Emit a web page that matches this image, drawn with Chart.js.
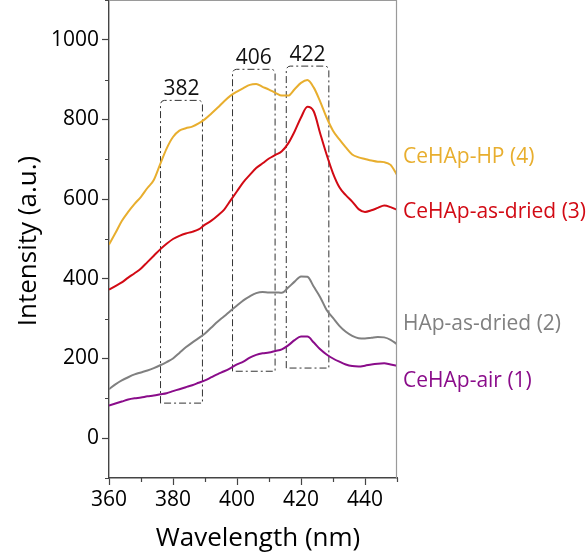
<!DOCTYPE html>
<html>
<head>
<meta charset="utf-8">
<script src="https://cdn.jsdelivr.net/npm/chart.js@4/dist/chart.umd.min.js"></script>
<style>
  html, body { margin: 0; padding: 0; background: #fff; }
  #wrap { width: 586px; height: 559px; }
</style>
</head>
<body>
<div id="wrap"><canvas id="pl"></canvas></div>
<script>
// Photoluminescence spectra, intensity vs wavelength
const wavelengths = [360,362,364,366,368,370,372,374,376,378,380,382,384,386,388,390,392,394,396,398,400,402,404,406,408,410,412,414,416,418,420,422,424,426,428,430,432,434,436,438,440,442,444,446,448,450];

const ceHApHP = [486,515,545,568,588,606,628,648,688,727,756,772,778,782,790,801,815,830,846,860,870,879,887,889,882,875,867,860,860,876,892,899,880,845,805,772,750,730,712,705,701,697,694,693,686,661];
const ceHApAsDried = [373,382,391,403,414,426,442,458,474,488,500,508,514,518,524,536,546,559,574,597,620,643,661,678,690,702,711,720,740,770,805,832,820,765,712,665,630,610,594,575,568,572,578,584,580,573];
const hApAsDried = [123,135,145,153,160,165,170,176,183,191,200,214,228,240,251,263,278,293,306,320,333,346,356,364,367,366,366,365,378,393,406,405,380,354,322,302,282,267,257,251,250,252,254,253,247,236];
const ceHApAir = [82,87,92,97,100,102,105,107,110,113,118,123,128,133,139,145,153,161,168,176,185,192,202,209,213,215,219,223,233,246,255,255,240,223,210,200,192,185,181,180,182,185,187,188,185,182];

const seriesNames = ['CeHAp-HP (4)', 'CeHAp-as-dried (3)', 'HAp-as-dried (2)', 'CeHAp-air (1)'];
const seriesValues = [ceHApHP, ceHApAsDried, hApAsDried, ceHApAir];
const seriesColors = ['#E8AE2E', '#D20A14', '#808080', '#8A0C8A'];
// intensity level at which each series name is written, right of the frame
const seriesNameAt = [706, 568, 286, 143];

// peak windows: wavelength span and intensity span of each dash-dot box
const peakLabels = ['382', '406', '422'];
const peakFrom = [376.1, 398.6, 415.4];
const peakTo = [389.2, 411.9, 428.7];
const peakTop = [848, 926, 934];
const peakBottom = [88, 168, 176];

const yTickLabels = [0, 200, 400, 600, 800, 1000];
const xTickLabels = [360, 380, 400, 420, 440];

const FONT = '"Open Sans", "DejaVu Sans", sans-serif';

const datasets = seriesValues.map((vals, i) => ({
  label: seriesNames[i],
  data: vals.map((v, k) => ({ x: wavelengths[k], y: v })),
  borderColor: seriesColors[i],
  borderWidth: 2,
  pointRadius: 0,
  cubicInterpolationMode: 'monotone',
  fill: false
}));

const peakBoxes = {
  id: 'peakBoxes',
  beforeDatasetsDraw(chart) {
    const { ctx, scales: { x, y } } = chart;
    ctx.save();
    ctx.strokeStyle = '#333';
    ctx.lineWidth = 1;
    ctx.setLineDash([7, 3, 2, 3]);
    const r = 4;
    peakLabels.forEach((lab, i) => {
      const l = x.getPixelForValue(peakFrom[i]);
      const rt = x.getPixelForValue(peakTo[i]);
      const t = y.getPixelForValue(peakTop[i]);
      const b = y.getPixelForValue(peakBottom[i]);
      ctx.beginPath();
      ctx.moveTo(l, b);
      ctx.lineTo(l, t + r);
      ctx.arcTo(l, t, l + r, t, r);
      ctx.lineTo(rt - r, t);
      ctx.arcTo(rt, t, rt, t + r, r);
      ctx.lineTo(rt, b);
      ctx.closePath();
      ctx.stroke();
    });
    ctx.setLineDash([]);
    ctx.fillStyle = '#111';
    ctx.font = '21px ' + FONT;
    ctx.textAlign = 'center';
    ctx.textBaseline = 'alphabetic';
    peakLabels.forEach((lab, i) => {
      const cx = (x.getPixelForValue(peakFrom[i]) + x.getPixelForValue(peakTo[i])) / 2;
      const t = y.getPixelForValue(peakTop[i]);
      ctx.fillText(lab, cx, t - 5);
    });
    ctx.restore();
  }
};

const frameAndText = {
  id: 'frameAndText',
  afterDraw(chart) {
    const { ctx, chartArea: a, scales: { x, y } } = chart;
    ctx.save();
    // top and right edges of the frame
    ctx.strokeStyle = '#9a9a9a';
    ctx.lineWidth = 1.2;
    ctx.beginPath();
    ctx.moveTo(a.left, a.top + 0.5);
    ctx.lineTo(a.right - 0.5, a.top + 0.5);
    ctx.lineTo(a.right - 0.5, a.bottom);
    ctx.stroke();
    // minor ticks
    ctx.strokeStyle = '#444';
    ctx.lineWidth = 1.2;
    ctx.beginPath();
    y.ticks.forEach(t => {
      if (t.value % 200 !== 0) {
        const py = Math.round(y.getPixelForValue(t.value)) + 0.5;
        ctx.moveTo(a.left, py);
        ctx.lineTo(a.left - 4, py);
      }
    });
    x.ticks.forEach(t => {
      if (t.value % 20 !== 0) {
        const px = Math.round(x.getPixelForValue(t.value)) + 0.5;
        ctx.moveTo(px, a.bottom);
        ctx.lineTo(px, a.bottom + 4);
      }
    });
    ctx.stroke();
    // series names
    ctx.font = '21px ' + FONT;
    ctx.textAlign = 'left';
    ctx.textBaseline = 'middle';
    seriesNames.forEach((name, i) => {
      ctx.fillStyle = seriesColors[i];
      ctx.fillText(name, a.right + 6, y.getPixelForValue(seriesNameAt[i]));
    });
    // axis titles
    ctx.fillStyle = '#000';
    ctx.font = '26px ' + FONT;
    ctx.textAlign = 'center';
    ctx.textBaseline = 'middle';
    ctx.fillText('Wavelength (nm)', (a.left + a.right) / 2 + 5, 539);
    ctx.translate(29, (a.top + a.bottom) / 2 + 2);
    ctx.rotate(-Math.PI / 2);
    ctx.fillText('Intensity (a.u.)', 0, 0);
    ctx.restore();
  }
};

new Chart(document.getElementById('pl'), {
  type: 'line',
  data: { datasets },
  options: {
    responsive: true,
    maintainAspectRatio: false,
    animation: false,
    layout: { padding: { top: 0, right: 189, bottom: 0, left: 0 } },
    plugins: { legend: { display: false }, tooltip: { enabled: false } },
    scales: {
      x: {
        type: 'linear',
        min: 360,
        max: 450,
        afterFit(s) { s.height = 81; s.paddingLeft = 0; s.paddingRight = 0; },
        afterBuildTicks(s) {
          const t = [];
          for (let v = 360; v <= 450; v += 10) t.push({ value: v });
          s.ticks = t;
        },
        ticks: {
          autoSkip: false,
          maxRotation: 0,
          padding: 2,
          color: '#000',
          font: { family: FONT, size: 21 },
          callback: v => (xTickLabels.includes(v) ? String(v) : '')
        },
        grid: {
          drawOnChartArea: false,
          tickLength: 7,
          tickWidth: 1.2,
          tickColor: c => (c.tick && c.tick.value % 20 === 0 ? '#444' : 'rgba(0,0,0,0)')
        },
        border: { color: '#444', width: 1.4 }
      },
      y: {
        min: -100,
        max: 1100,
        afterFit(s) { s.width = 109; s.paddingTop = 0; s.paddingBottom = 0; },
        afterBuildTicks(s) {
          const t = [];
          for (let v = -100; v <= 1100; v += 100) t.push({ value: v });
          s.ticks = t;
        },
        ticks: {
          autoSkip: false,
          padding: 3,
          color: '#000',
          font: { family: FONT, size: 21 },
          callback: v => (yTickLabels.includes(v) ? String(v) : '')
        },
        grid: {
          drawOnChartArea: false,
          tickLength: 7,
          tickWidth: 1.2,
          tickColor: c => (c.tick && c.tick.value % 200 === 0 && c.tick.value >= 0 && c.tick.value <= 1000 ? '#444' : 'rgba(0,0,0,0)')
        },
        border: { color: '#444', width: 1.4 }
      }
    }
  },
  plugins: [peakBoxes, frameAndText]
});
</script>
</body>
</html>
